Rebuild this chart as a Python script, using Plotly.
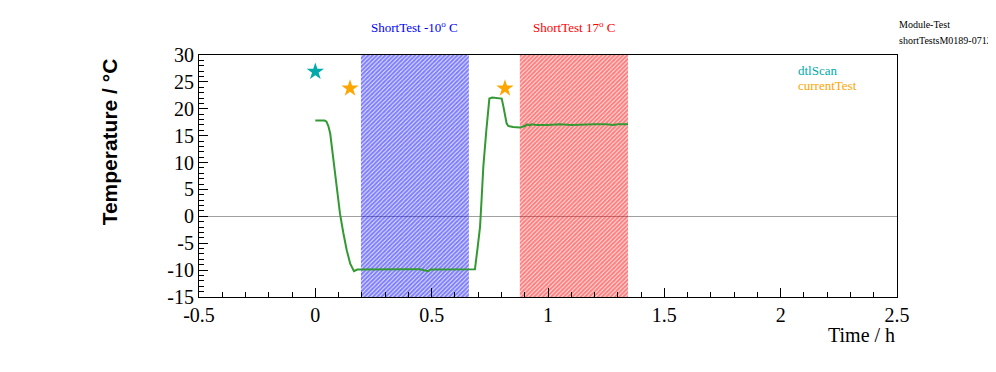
import plotly.graph_objects as go

# ---- data ----
time_h = [0.0, 0.02, 0.04, 0.048, 0.056, 0.064, 0.078, 0.092, 0.106, 0.12, 0.135, 0.15, 0.166,
          0.18, 0.25, 0.3, 0.35, 0.4, 0.45, 0.475, 0.485, 0.495, 0.55, 0.6, 0.65, 0.686,
          0.697, 0.708, 0.715, 0.722, 0.735, 0.748, 0.76, 0.78, 0.801, 0.808, 0.815, 0.822,
          0.829, 0.85, 0.879, 0.9, 0.91, 0.92, 0.93, 0.95, 1.0, 1.05, 1.1, 1.15, 1.2,
          1.25, 1.28, 1.3, 1.344]
temp_c = [17.8, 17.8, 17.8, 17.6, 16.8, 15.4, 10.5, 5.5, 0.5, -3.0, -6.3, -8.8, -10.2,
          -9.9, -9.85, -9.85, -9.85, -9.85, -9.85, -10.0, -10.2, -9.9, -9.85, -9.85, -9.85, -9.85,
          -6.0, -1.9, 3.5, 9.2, 16.0, 21.9, 22.1, 22.0, 21.9, 20.5, 18.5, 17.3,
          16.8, 16.6, 16.5, 16.8, 17.1, 16.9, 17.1, 17.0, 17.0, 17.1, 17.0, 17.1, 17.1,
          17.1, 17.0, 17.1, 17.1]

dtl_t = [0.0]
dtl_T = [26.9]
cur_t = [0.149, 0.815]
cur_T = [23.8, 23.8]

band_cold = [0.196, 0.660]
band_warm = [0.879, 1.344]
y_range = [-15, 30]
x_range = [-0.5, 2.5]

x_tickvals = [-0.5, 0, 0.5, 1, 1.5, 2, 2.5]
x_ticktext = ["-0.5", "0", "0.5", "1", "1.5", "2", "2.5"]
y_tickvals = [-15, -10, -5, 0, 5, 10, 15, 20, 25, 30]
y_ticktext = ["-15", "-10", "-5", "0", "5", "10", "15", "20", "25", "30"]

serif = "Liberation Serif"
fig = go.Figure()

def band(x0x1, col):
    x0, x1 = x0x1
    fig.add_trace(go.Scatter(
        x=[x0, x1, x1, x0, x0], y=[y_range[0], y_range[0], y_range[1], y_range[1], y_range[0]],
        mode="lines", fill="toself", line=dict(width=0, color=col),
        fillcolor="rgba(0,0,0,0)",
        fillpattern=dict(shape="/", fgcolor=col, bgcolor="rgba(0,0,0,0)", size=3, solidity=0.75),
        hoverinfo="skip", showlegend=False))

band(band_cold, "#0000ff")
band(band_warm, "#ff0000")

fig.add_trace(go.Scatter(x=time_h, y=temp_c, mode="lines",
                         line=dict(color="#339933", width=2), showlegend=False))
fig.add_trace(go.Scatter(x=dtl_t, y=dtl_T, mode="markers",
                         marker=dict(symbol="star", size=13, color="#00aaaa"), showlegend=False))
fig.add_trace(go.Scatter(x=cur_t, y=cur_T, mode="markers",
                         marker=dict(symbol="star", size=13, color="#ffa500"), showlegend=False))

axis_common = dict(showgrid=False, showline=True, linecolor="black", linewidth=1,
                   mirror=True, ticks="inside", tickcolor="black",
                   tickfont=dict(family=serif, size=20, color="black"))

fig.update_xaxes(range=x_range, tickvals=x_tickvals, ticktext=x_ticktext, ticklen=9,
                 zeroline=False,
                 minor=dict(dtick=0.1, tick0=0, ticklen=5, ticks="inside", tickcolor="black"),
                 **axis_common)
fig.update_yaxes(range=y_range, tickvals=y_tickvals, ticktext=y_ticktext, ticklen=9,
                 zeroline=True, zerolinecolor="#a0a0a0", zerolinewidth=1,
                 minor=dict(dtick=1, tick0=0, ticklen=5, ticks="inside", tickcolor="black"),
                 **axis_common)

anns = [
    dict(text="ShortTest -10<sup>o</sup> C", x=0.392, y=1.116,
         font=dict(family=serif, size=13, color="#0000ff"), xanchor="center", yanchor="middle"),
    dict(text="ShortTest 17<sup>o</sup> C", x=0.527, y=1.116,
         font=dict(family=serif, size=13, color="#ff0000"), xanchor="center", yanchor="middle"),
    dict(text="Module-Test", x=1.0, y=1.124,
         font=dict(family=serif, size=10, color="black"), xanchor="left", yanchor="middle"),
    dict(text="shortTestsM0189-071207", x=1.0, y=1.058,
         font=dict(family=serif, size=10, color="black"), xanchor="left", yanchor="middle"),
    dict(text="dtlScan", x=0.855, y=0.938,
         font=dict(family=serif, size=13, color="#00aaaa"), xanchor="left", yanchor="middle"),
    dict(text="currentTest", x=0.855, y=0.876,
         font=dict(family=serif, size=13, color="#ffa500"), xanchor="left", yanchor="middle"),
    dict(text="Time / h", x=1.0, y=-0.157,
         font=dict(family=serif, size=20, color="black"), xanchor="right", yanchor="middle"),
    dict(text="<b>Temperature / °C</b>", x=-0.128, y=0.995,
         textangle=-90, font=dict(family="Liberation Sans", size=21, color="black"),
         xanchor="center", yanchor="top"),
]
for a in anns:
    a.update(xref="paper", yref="paper", showarrow=False)
# band label x positions in paper coordinates from band centres
for a, b in ((anns[0], band_cold), (anns[1], band_warm)):
    a["x"] = ((b[0] + b[1]) / 2 - x_range[0]) / (x_range[1] - x_range[0])

fig.update_layout(width=988, height=364, margin=dict(l=191, r=99, t=47, b=75),
                  paper_bgcolor="white", plot_bgcolor="white", annotations=anns,
                  showlegend=False)

fig.write_html("out.html")
